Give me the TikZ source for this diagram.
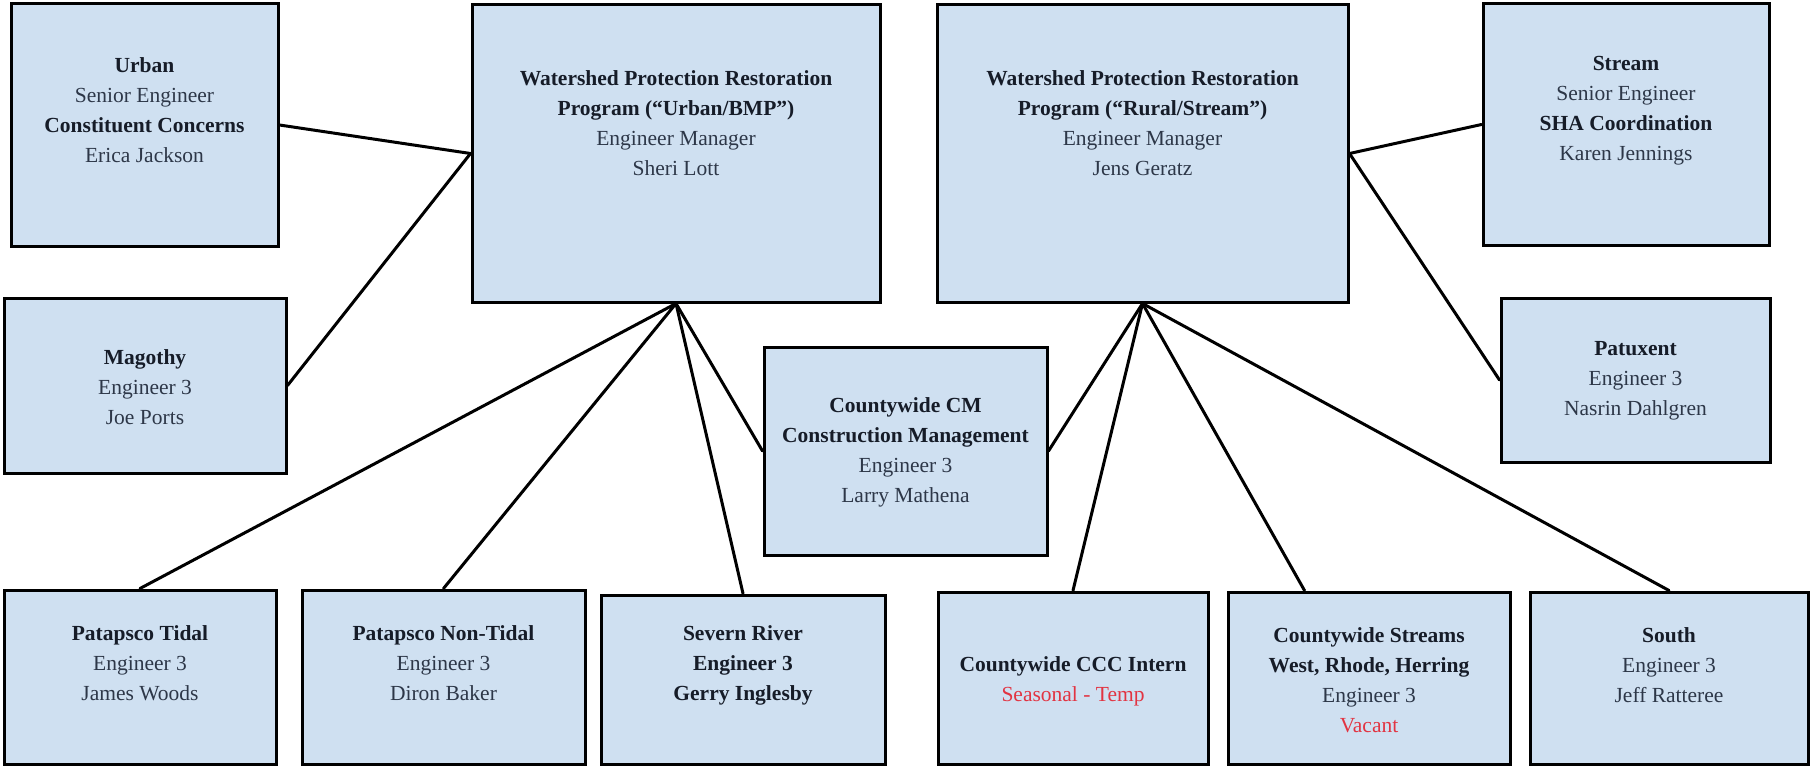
\documentclass[tikz,border=0pt]{standalone}
\usepackage{fontspec}
\setmainfont{Liberation Serif}
\definecolor{boxblue}{RGB}{207,224,241}
\definecolor{txtgray}{RGB}{45,55,72}
\definecolor{headc}{RGB}{22,28,40}
\definecolor{redc}{RGB}{226,52,66}
\newcommand{\hd}[1]{{\bfseries\color{headc}#1}}
\newcommand{\rd}[1]{{\color{redc}#1}}
\tikzset{
  box/.style={draw=black, line width=3pt, fill=boxblue, inner sep=0pt, rectangle},
  lbl/.style={align=center, inner sep=0pt, text=txtgray, font=\fontsize{21.5}{30}\selectfont},
  conn/.style={draw=black, line width=3pt, line cap=round}
}
\begin{document}
\begin{tikzpicture}[x=1pt, y=-1pt]
\useasboundingbox[fill=white] (0,0) rectangle (1811,768);
% boxes: centre = ((l+r)/2, (t+b)/2), size = (r-l, b-t)
\node[box, minimum width=267pt, minimum height=242pt] (urban)    at (144.5,125) {};
\node[box, minimum width=282pt, minimum height=175pt] (magothy)  at (145,385.5) {};
\node[box, minimum width=408pt, minimum height=297pt] (bmp)      at (676,153.5) {};
\node[box, minimum width=411pt, minimum height=297pt] (rural)    at (1142.5,153.5) {};
\node[box, minimum width=286pt, minimum height=241pt] (stream)   at (1626,124.5) {};
\node[box, minimum width=269pt, minimum height=164pt] (patuxent) at (1635.5,380) {};
\node[box, minimum width=283pt, minimum height=208pt] (cm)       at (905.5,451) {};
\node[box, minimum width=272pt, minimum height=174pt] (tidal)    at (140,677) {};
\node[box, minimum width=283pt, minimum height=174pt] (nontidal) at (443.5,677) {};
\node[box, minimum width=284pt, minimum height=169pt] (severn)   at (743,679.5) {};
\node[box, minimum width=270pt, minimum height=172pt] (ccc)      at (1073,678) {};
\node[box, minimum width=282pt, minimum height=172pt] (streams)  at (1369,678) {};
\node[box, minimum width=278pt, minimum height=172pt] (south)    at (1669,678) {};
% texts
\node[lbl] (urbanT) at (144.5,110.5) {\hd{Urban}\\Senior Engineer\\\hd{Constituent Concerns}\\Erica Jackson};
\node[lbl] (magothyT) at (145,387) {\hd{Magothy}\\Engineer 3\\Joe Ports};
\node[lbl] (bmpT) at (676,123) {\hd{Watershed Protection Restoration}\\\hd{Program (“Urban/BMP”)}\\Engineer Manager\\Sheri Lott};
\node[lbl] (ruralT) at (1142.5,123) {\hd{Watershed Protection Restoration}\\\hd{Program (“Rural/Stream”)}\\Engineer Manager\\Jens Geratz};
\node[lbl] (streamT) at (1626,110.5) {\hd{Stream}\\Senior Engineer\\\hd{SHA Coordination}\\Karen Jennings};
\node[lbl] (patuxentT) at (1635.5,381) {\hd{Patuxent}\\Engineer 3\\Nasrin Dahlgren};
\node[lbl] (cmT) at (905.5,452) {\hd{Countywide CM}\\\hd{Construction Management}\\Engineer 3\\Larry Mathena};
\node[lbl] (tidalT) at (140,663) {\hd{Patapsco Tidal}\\Engineer 3\\James Woods};
\node[lbl] (nontidalT) at (443.5,663) {\hd{Patapsco Non-Tidal}\\Engineer 3\\Diron Baker};
\node[lbl] (severnT) at (743,665) {\hd{Severn River}\\\hd{Engineer 3}\\\hd{Gerry Inglesby}};
\node[lbl] (cccT) at (1073,681) {\hd{Countywide CCC Intern}\\\rd{Seasonal - Temp}};
\node[lbl] (streamsT) at (1369,680) {\hd{Countywide Streams}\\\hd{West, Rhode, Herring}\\Engineer 3\\\rd{Vacant}};
\node[lbl] (southT) at (1669,665) {\hd{South}\\Engineer 3\\Jeff Ratteree};
% connectors
\draw[conn] (urban.east) -- (bmp.west);
\draw[conn] (magothy.east) -- (bmp.west);
\draw[conn] (bmp.south) -- (tidal.north);
\draw[conn] (bmp.south) -- (nontidal.north);
\draw[conn] (bmp.south) -- (severn.north);
\draw[conn] (bmp.south) -- (cm.west);
\draw[conn] (rural.south) -- (cm.east);
\draw[conn] (rural.south) -- (ccc.north);
\draw[conn] (rural.south) -- ([xshift=78pt]streams.north west);
\draw[conn] (rural.south) -- (south.north);
\draw[conn] (rural.east) -- (stream.west);
\draw[conn] (rural.east) -- (patuxent.west);
\end{tikzpicture}
\end{document}
